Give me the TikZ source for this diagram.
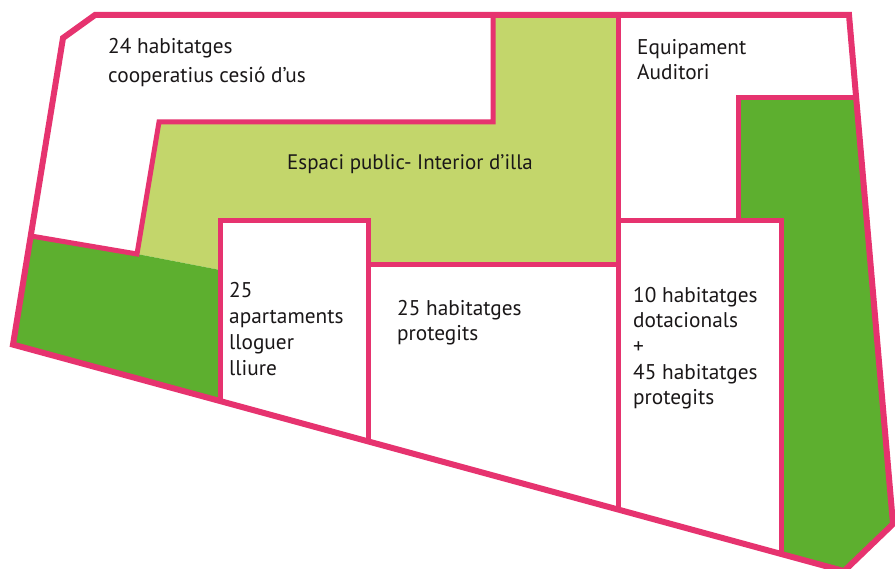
\documentclass[tikz,border=0pt]{standalone}
\usepackage{fontspec}
\setmainfont{PT Sans}
\definecolor{pinkline}{HTML}{E6336F}
\definecolor{lightgreen}{HTML}{C3D66B}
\definecolor{darkgreen}{HTML}{5DAF2F}
\definecolor{txt}{HTML}{1A1718}
\newcommand{\blk}[3]{\fontsize{#1}{#2}\selectfont\begin{tabular}[t]{@{}l@{}}#3\end{tabular}}
\begin{document}
\begin{tikzpicture}[x=1bp,y=-1bp,
  outerline/.style={draw=pinkline,line width=6bp,line join=miter},
  innerline/.style={draw=pinkline,line width=5bp,line join=miter},
  label/.style={anchor=base west,inner sep=0pt,text=txt}]
\useasboundingbox (0,0) rectangle (895,569);
% outer boundary
\coordinate (A) at (95,15);
\coordinate (F) at (849,15);
\coordinate (E) at (893,524);
\coordinate (D) at (844,571.1);
\coordinate (C) at (13,344.6);
\coordinate (B) at (63,38);
% interior points
\coordinate (P1) at (159,122);
\coordinate (P2) at (493,122);
\coordinate (P3) at (493,15);
\coordinate (P4) at (137,254);
\coordinate (P5) at (31,236);
\coordinate (G) at (220,270);
\coordinate (Q1) at (220,221);
\coordinate (Q1b) at (220,401.0);
\coordinate (Q2) at (368,221);
\coordinate (Q2b) at (368,441.4);
\coordinate (Q3) at (368,264);
\coordinate (Q4) at (618,264);
\coordinate (Q4b) at (618,509.5);
\coordinate (Q5) at (618,15);
\coordinate (S) at (618,221);
\coordinate (Q6) at (781,221);
\coordinate (Q6b) at (781,553.6);
\coordinate (R1) at (738,98);
\coordinate (R2) at (738,221);
\coordinate (R3) at (856.2,98);
% fills
\fill[white] (A) -- (F) -- (E) -- (D) -- (C) -- (B) -- cycle;
\fill[lightgreen] (P1) -- (P2) -- (P3) -- (Q5) -- (Q4) -- (Q3) -- (Q2) -- (Q1) -- (G) -- (P4) -- cycle;
\fill[darkgreen] (P5) -- (P4) -- (G) -- (Q1b) -- (C) -- cycle;
\fill[darkgreen] (R1) -- (R3) -- (E) -- (D) -- (Q6b) -- (Q6) -- (R2) -- cycle;
% pink lines
\draw[innerline] (P3) -- (P2) -- (P1) -- (P4) -- (P5);
\draw[innerline] (Q1b) -- (Q1) -- (Q2) -- (Q2b);
\draw[innerline] (Q3) -- (Q4);
\draw[innerline] (Q5) -- (Q4b);
\draw[innerline] (S) -- (Q6) -- (Q6b);
\draw[innerline] (R3) -- (R1) -- (R2);
\draw[outerline] (A) -- (F) -- (E) -- (D) -- (C) -- (B) -- cycle;
% labels
\node[label] (coop) at (108,54) {\blk{21.3bp}{29bp}{24 habitatges\\cooperatius cesió d’us}};
\node[label] (espaci) at (287,170) {\blk{21bp}{25bp}{Espaci public- Interior d’illa}};
\node[label] (equip) at (637,55) {\blk{21.3bp}{25bp}{Equipament\\Auditori}};
\node[label] (apart) at (229,297) {\blk{21.3bp}{26bp}{25\\apartaments\\lloguer\\lliure}};
\node[label] (prot) at (397,315) {\blk{21.3bp}{25bp}{25 habitatges\\protegits}};
\node[label] (dot) at (633,302) {\blk{21.3bp}{25.7bp}{10 habitatges\\dotacionals\\+\\45 habitatges\\protegits}};
\end{tikzpicture}
\end{document}
